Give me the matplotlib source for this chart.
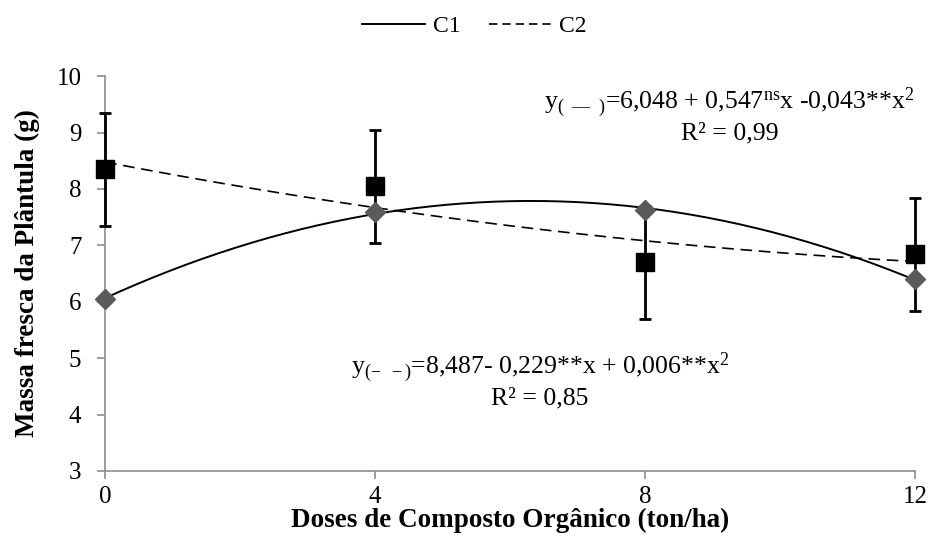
import numpy as np
import matplotlib
matplotlib.use("Agg")
import matplotlib.pyplot as plt
from matplotlib.lines import Line2D

plt.rcParams['font.family'] = ['Liberation Serif', 'DejaVu Serif']
plt.rcParams['mathtext.fontset'] = 'custom'
plt.rcParams['mathtext.rm'] = 'Liberation Serif'
plt.rcParams['mathtext.it'] = 'Liberation Serif:italic'

# data
doses = [0, 4, 8, 12]
c1 = [6.05, 7.60, 7.62, 6.40]
c2 = [8.35, 8.05, 6.70, 6.84]
c2_err = [1.0, 1.0, 1.0, 1.0]

eq1 = "y$_{(\\ \\ \u2014\\ \\ )}$=6,048 + 0,547$^{\\mathrm{ns}}$x -0,043**x$^{2}$\nR\u00b2 = 0,99"
eq2 = "y$_{(-\\ \\ -)}$=8,487- 0,229**x + 0,006**x$^{2}$\nR\u00b2 = 0,85"

fig = plt.figure(figsize=(9.3, 5.56), dpi=100)
ax = fig.add_axes([0.113, 0.153, 0.871, 0.71])

grey = '#8c8c8c'

# quadratic trend lines (like the spreadsheet ones)
xs = np.linspace(0, 12, 200)
p1 = np.polyfit(doses, c1, 2)
p2 = np.polyfit(doses, c2, 2)
ax.plot(xs, np.polyval(p1, xs), color='black', lw=1.4, zorder=2)
ax.plot(xs, np.polyval(p2, xs), color='black', lw=1.2, ls=(0, (7, 4)), zorder=2)

eb = ax.errorbar(doses, c2, yerr=c2_err, fmt='none', ecolor='black', elinewidth=2,
                 capsize=4, capthick=2, zorder=3)
for art in eb.lines[1] + eb.lines[2]:
    art.set_clip_on(False)
ax.plot(doses, c2, ls='none', marker='s', ms=13, color='black', zorder=4,
        clip_on=False)
ax.plot(doses, c1, ls='none', marker='D', ms=10, color='#5a5a5a', zorder=5,
        clip_on=False)

ax.set_xlim(0, 12)
ax.set_ylim(3, 10)
ax.set_xticks(doses)
ax.set_yticks(range(3, 11))
for s in ['top', 'right']:
    ax.spines[s].set_visible(False)
for s in ['left', 'bottom']:
    ax.spines[s].set_color(grey)
    ax.spines[s].set_linewidth(1.2)
ax.tick_params(axis='both', colors=grey, labelcolor='black', labelsize=18,
               length=6, width=1.2)
ax.tick_params(axis='x', pad=5)
ax.tick_params(axis='y', pad=11)

ax.set_xlabel('Doses de Composto Orgânico (ton/ha)', fontsize=19.5,
              fontweight='bold', labelpad=0)
ax.set_ylabel('Massa fresca da Plântula (g)', fontsize=19.5,
              fontweight='bold', labelpad=12)

ax.text(9.25, 9.3, eq1, ha='center', va='center', fontsize=18.5,
        linespacing=1.15, multialignment='center')
ax.text(6.44, 4.61, eq2, ha='center', va='center', fontsize=18.5,
        linespacing=1.15, multialignment='center')

handles = [Line2D([], [], color='black', lw=1.4),
           Line2D([], [], color='black', lw=1.2, ls=(0, (5, 3)))]
fig.legend(handles, ['C1', 'C2'], loc='upper center', bbox_to_anchor=(0.51, 1.01),
           ncol=2, frameon=False, fontsize=17, handlelength=2.7,
           columnspacing=1.2, handletextpad=0.3)

fig.savefig('out.png', dpi=100)
